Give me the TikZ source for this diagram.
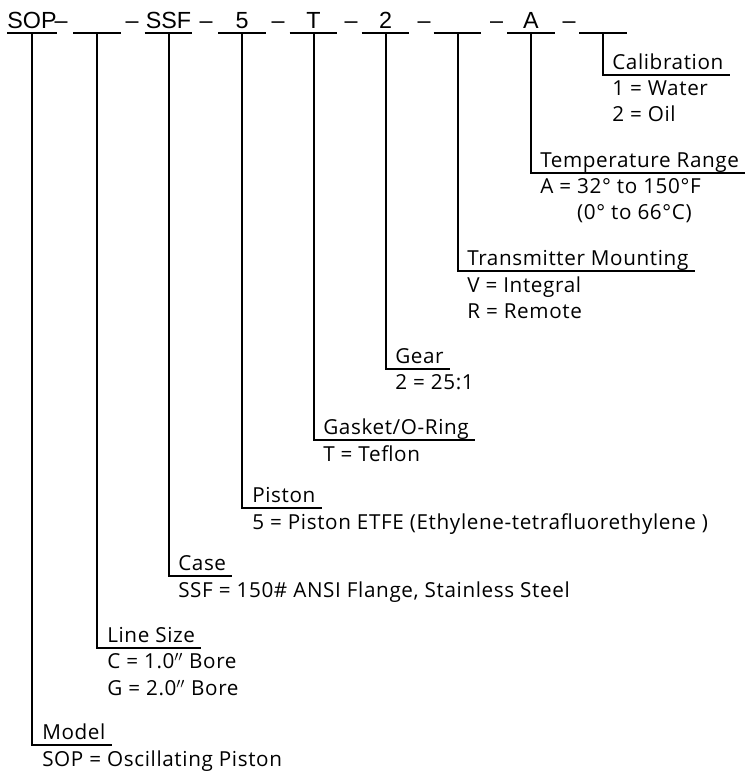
\documentclass[tikz,border=0pt]{standalone}
\usepackage{fontspec}
\setmainfont{Open Sans}[LetterSpace=3]
\newfontfamily\codefont{Liberation Sans}
\usetikzlibrary{positioning}

\begin{document}
\begin{tikzpicture}[
  x=0.75pt, y=-0.75pt,
  every node/.style={font=\fontsize{15.5}{19.8}\selectfont},
  code/.style={font=\codefont\fontsize{17.5}{20}\selectfont, minimum width=35.25pt, inner sep=0pt, text height=12.5pt, text depth=3.5pt, anchor=base},
  joiner/.style={font=\codefont\fontsize{17.5}{20}\selectfont, inner sep=0pt, anchor=base},
  title/.style={anchor=south west, inner xsep=4.5pt, inner ysep=0pt, text depth=3.75pt},
  vals/.style={align=left, inner xsep=4.5pt, inner ysep=0pt},
  leader/.style={line width=1.5pt}
]
\useasboundingbox (0,0) rectangle (752,778);

% The part number
\node[code] (sopC) at (32,28.3) {SOP};
\node[joiner] (j1) at (61,28.3) {–};
\node[code] (sizeC) at (97,28.3) {};
\node[joiner] (j2) at (132,28.3) {–};
\node[code] (caseC) at (168.5,28.3) {SSF};
\node[joiner] (j3) at (206,28.3) {–};
\node[code] (pistonC) at (242,28.3) {5};
\node[joiner] (j4) at (278,28.3) {–};
\node[code] (gasketC) at (313.5,28.3) {T};
\node[joiner] (j5) at (351,28.3) {–};
\node[code] (gearC) at (385.5,28.3) {2};
\node[joiner] (j6) at (424,28.3) {–};
\node[code] (mountC) at (457.5,28.3) {};
\node[joiner] (j7) at (496.5,28.3) {–};
\node[code] (rangeC) at (531,28.3) {A};
\node[joiner] (j8) at (569,28.3) {–};
\node[code] (calC) at (603,28.3) {};

% Field titles and their options
\node[title] (calT) at (606,75) {Calibration};
\node[vals, below=4pt of calT.south west, anchor=north west] (calV) {1 = Water\\2 = Oil};

\node[title] (rangeT) at (534,172.5) {Temperature Range};
\node[vals, below=4pt of rangeT.south west, anchor=north west] (rangeV) {A = 32° to 150°F\\\hphantom{A = }(0° to 66°C)};

\node[title] (mountT) at (461,271) {Transmitter Mounting};
\node[vals, below=4pt of mountT.south west, anchor=north west] (mountV) {V = Integral\\R = Remote};

\node[title] (gearT) at (389,369) {Gear};
\node[vals, below=4pt of gearT.south west, anchor=north west] (gearV) {2 = 25:1};

\node[title] (gasketT) at (317,440) {Gasket/O-Ring};
\node[vals, below=4pt of gasketT.south west, anchor=north west] (gasketV) {T = Teflon};

\node[title] (pistonT) at (246,508) {Piston};
\node[vals, below=4pt of pistonT.south west, anchor=north west] (pistonV) {5 = Piston ETFE (Ethylene-tetrafluorethylene )};

\node[title] (caseT) at (172,576) {Case\ };
\node[vals, below=4pt of caseT.south west, anchor=north west] (caseV) {SSF = 150\# ANSI Flange, Stainless Steel};

\node[title] (sizeT) at (101,648) {Line Size};
\node[vals, below=4pt of sizeT.south west, anchor=north west] (sizeV) {C = 1.0$''$ Bore\\G = 2.0$''$ Bore};

\node[title] (sopT) at (36,745) {Model};
\node[vals, below=4pt of sopT.south west, anchor=north west] (sopV) {SOP = Oscillating Piston};

% Leaders - slot to title
\draw[leader] (sopC.south west) -- (sopC.south east) (sopC.south) |- (sopT.south east);
\draw[leader] (sizeC.south west) -- (sizeC.south east) (sizeC.south) |- (sizeT.south east);
\draw[leader] (caseC.south west) -- (caseC.south east) (caseC.south) |- (caseT.south east);
\draw[leader] (pistonC.south west) -- (pistonC.south east) (pistonC.south) |- (pistonT.south east);
\draw[leader] (gasketC.south west) -- (gasketC.south east) (gasketC.south) |- (gasketT.south east);
\draw[leader] (gearC.south west) -- (gearC.south east) (gearC.south) |- (gearT.south east);
\draw[leader] (mountC.south west) -- (mountC.south east) (mountC.south) |- (mountT.south east);
\draw[leader] (rangeC.south west) -- (rangeC.south east) (rangeC.south) |- (rangeT.south east);
\draw[leader] (calC.south west) -- (calC.south east) (calC.south) |- (calT.south east);

\end{tikzpicture}
\end{document}
